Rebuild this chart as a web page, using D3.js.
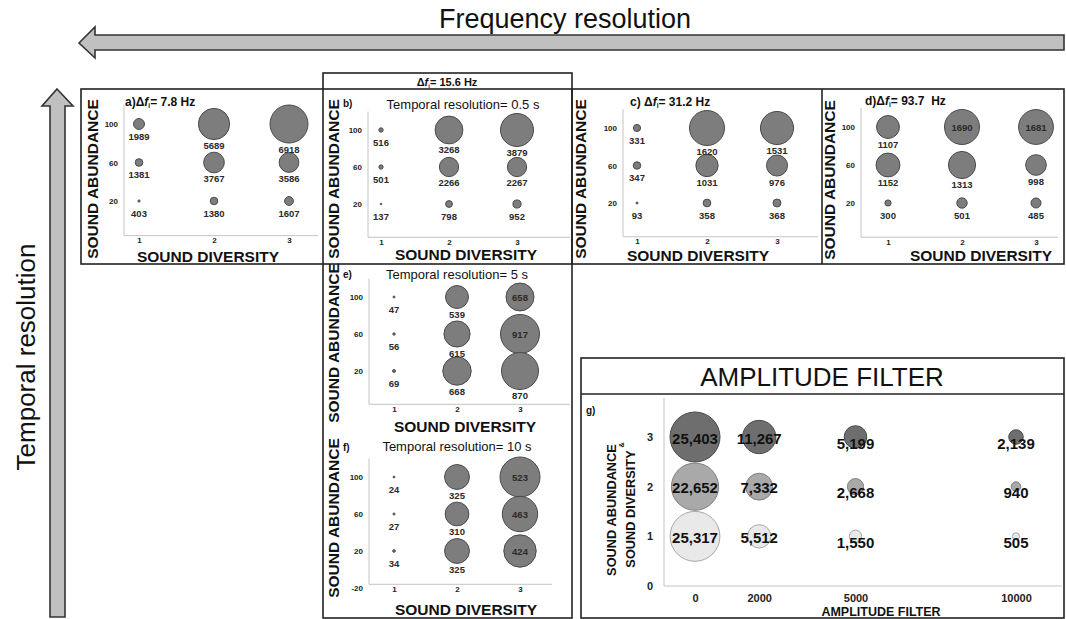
<!DOCTYPE html>
<html>
<head>
<meta charset="utf-8">
<script src="https://cdn.jsdelivr.net/npm/d3@7"></script>
<style>
  body { margin: 0; background: #fff; }
  svg { display: block; font-family: "Liberation Sans", Arial, sans-serif; }
</style>
</head>
<body>
<svg id="fig" width="1066" height="619"></svg>
<script>
// categories
var diversity = [1, 2, 3];
var abundance = [100, 60, 20];
// counts, rows = abundance (100, 60, 20), cols = diversity (1, 2, 3)
var countsA = [[1989, 5689, 6918], [1381, 3767, 3586], [403, 1380, 1607]];
var countsB = [[516, 3268, 3879], [501, 2266, 2267], [137, 798, 952]];
var countsC = [[331, 1620, 1531], [347, 1031, 976], [93, 358, 368]];
var countsD = [[1107, 1690, 1681], [1152, 1313, 998], [300, 501, 485]];
var countsE = [[47, 539, 658], [56, 615, 917], [69, 668, 870]];
var countsF = [[24, 325, 523], [27, 310, 463], [34, 325, 424]];

// amplitude filter panel
var ampFilters = [0, 2000, 5000, 10000];
var ampLevels = [3, 2, 1];
var ampTicks = [0, 1, 2, 3];
var ampCounts = [[25403, 11267, 5199, 2139], [22652, 7332, 2668, 940], [25317, 5512, 1550, 505]];
var ampFill = ["#6e6e6e", "#a9a9a9", "#e9e9e9"];
var ampStroke = ["#4a4a4a", "#808080", "#a8a8a8"];

var svg = d3.select("#fig");
var BOLD = "bold";
var plain = function(d) { return String(d); };

// ---- big arrows + titles
var arrowLine = d3.line();
svg.append("path")
    .attr("d", arrowLine([[79, 43], [95, 27], [95, 35], [1064, 35], [1064, 50], [95, 50], [95, 58]]) + "Z")
    .attr("fill", "#c0c0c0").attr("stroke", "#333").attr("stroke-width", 1.6);
svg.append("text")
    .attr("x", 565).attr("y", 28)
    .attr("text-anchor", "middle").attr("font-size", 27).attr("fill", "#111")
    .text("Frequency resolution");

svg.append("path")
    .attr("d", arrowLine([[57, 89], [73, 106], [65, 106], [65, 617], [50, 617], [50, 106], [42, 106]]) + "Z")
    .attr("fill", "#c0c0c0").attr("stroke", "#333").attr("stroke-width", 1.6);
svg.append("text")
    .attr("transform", "translate(35,357) rotate(-90)")
    .attr("text-anchor", "middle").attr("font-size", 26).attr("fill", "#111")
    .text("Temporal resolution");

// ---- frames
var frame = svg.append("g").attr("fill", "none").attr("stroke", "#222").attr("stroke-width", 1.6);
frame.append("rect").attr("x", 81).attr("y", 89).attr("width", 983).attr("height", 175);
frame.append("rect").attr("x", 323).attr("y", 73).attr("width", 249).attr("height", 545);
[572, 822].forEach(function(x) {
  frame.append("line").attr("x1", x).attr("x2", x).attr("y1", 89).attr("y2", 264);
});
frame.append("rect").attr("x", 581).attr("y", 358).attr("width", 483).attr("height", 260);
frame.append("line").attr("x1", 581).attr("x2", 1064).attr("y1", 394).attr("y2", 394);

// Δf title helper
function dfTitle(g, x, y, prefix, value, size, anchor) {
  var t = g.append("text").attr("x", x).attr("y", y)
      .attr("font-weight", BOLD).attr("font-size", size).attr("fill", "#111")
      .attr("text-anchor", anchor || "start");
  t.append("tspan").text(prefix + "\u0394");
  t.append("tspan").attr("font-style", "italic").text("f");
  t.append("tspan").attr("font-size", size * 0.55).attr("dy", 2).text("i");
  t.append("tspan").attr("dy", -2).text("= " + value + " Hz");
}
dfTitle(svg, 447, 86, "", "15.6", 11, "middle");

// ---- small bubble panels
var panels = [
  {id: "a", counts: countsA, x0: 124, x1: 139, x3: 289, xEnd: 318, y100: 124, y20: 201, maxR: 19,
   ab: [92, 179], dv: [208, 262], df: [125, 106, "a)", "7.8"], inside: []},
  {id: "b", counts: countsB, x0: 368, x1: 381, x3: 517, xEnd: 570, y100: 130, y20: 204, maxR: 16.5,
   ab: [333, 179], dv: [466, 260], tr: [463, 109, "0.5 s"], tag: [343, 107], inside: []},
  {id: "c", counts: countsC, x0: 623, x1: 637, x3: 777, xEnd: 818, y100: 128, y20: 203, maxR: 17.5,
   ab: [580, 179], dv: [698, 261], df: [630, 106, "c) ", "31.2"], inside: []},
  {id: "d", counts: countsD, x0: 861, x1: 888, x3: 1036, xEnd: 1058, y100: 127, y20: 203, maxR: 17.5,
   ab: [829, 180], dv: [981, 261], df: [865, 105, "d)", "93.7\u00a0"], inside: [[0, 1], [0, 2]]},
  {id: "e", counts: countsE, x0: 369, x1: 394, x3: 520, xEnd: 570, y100: 297, y20: 371, maxR: 19.5,
   ab: [333, 343], dv: [465, 432], tr: [457, 279, "5 s"], tag: [343, 278], inside: [[0, 2], [1, 2]]},
  {id: "f", counts: countsF, x0: 369, x1: 394, x3: 520, xEnd: 552, y100: 477, y20: 551, maxR: 20,
   ab: [333, 518], dv: [466, 615], tr: [457, 451, "10 s"], tag: [343, 451], inside: [[0, 2], [1, 2], [2, 2]],
   yTicks: [-20, 20, 60, 100]}
];

panels.forEach(function(p) {
  var g = svg.append("g").attr("class", "panel-" + p.id);
  var x = d3.scaleLinear().domain([1, 3]).range([p.x1, p.x3]);
  var y = d3.scaleLinear().domain([100, 20]).range([p.y100, p.y20]);
  var r = d3.scaleLinear().domain([0, d3.max(p.counts, function(row) { return d3.max(row); })]).range([0, p.maxR]);
  var base = y(-16);

  // axes
  g.append("line").attr("x1", p.x0).attr("x2", p.x0).attr("y1", y(120)).attr("y2", base)
      .attr("stroke", "#c4c4c4");
  g.append("line").attr("x1", p.x0).attr("x2", p.xEnd).attr("y1", base).attr("y2", base)
      .attr("stroke", "#c4c4c4");

  var ya = g.append("g").attr("transform", "translate(" + p.x0 + ",0)")
      .call(d3.axisLeft(y).tickValues(p.yTicks || abundance).tickSize(0).tickPadding(6).tickFormat(plain));
  var xa = g.append("g").attr("transform", "translate(0," + base + ")")
      .call(d3.axisBottom(x).tickValues(diversity).tickSize(0).tickPadding(2).tickFormat(plain));
  [ya, xa].forEach(function(a) {
    a.select(".domain").remove();
    a.selectAll("text").attr("font-size", 8).attr("font-weight", BOLD).attr("fill", "#222")
        .attr("font-family", "Liberation Sans, Arial, sans-serif");
  });

  // axis titles
  g.append("text")
      .attr("transform", "translate(" + p.ab[0] + "," + p.ab[1] + ") rotate(-90)")
      .attr("text-anchor", "middle").attr("dominant-baseline", "central")
      .attr("font-size", 15.5).attr("font-weight", BOLD).attr("fill", "#111")
      .text("SOUND ABUNDANCE");
  g.append("text")
      .attr("x", p.dv[0]).attr("y", p.dv[1])
      .attr("text-anchor", "middle")
      .attr("font-size", 15.5).attr("font-weight", BOLD).attr("fill", "#111")
      .text("SOUND DIVERSITY");

  // titles
  if (p.df) dfTitle(g, p.df[0], p.df[1], p.df[2], p.df[3], 12);
  if (p.tr) {
    g.append("text").attr("x", p.tag[0]).attr("y", p.tag[1])
        .attr("font-size", 10).attr("font-weight", BOLD).attr("fill", "#111").text(p.id + ")");
    g.append("text").attr("x", p.tr[0]).attr("y", p.tr[1]).attr("text-anchor", "middle")
        .attr("font-size", 13).attr("fill", "#111").text("Temporal resolution= " + p.tr[2]);
  }

  // bubbles
  var cells = [];
  p.counts.forEach(function(row, i) {
    row.forEach(function(v, j) {
      var inside = p.inside.some(function(c) { return c[0] === i && c[1] === j; });
      cells.push({ab: abundance[i], dv: diversity[j], value: v, inside: inside});
    });
  });
  g.selectAll("circle.bub").data(cells).enter().append("circle")
      .attr("class", "bub")
      .attr("cx", function(d) { return x(d.dv); })
      .attr("cy", function(d) { return y(d.ab); })
      .attr("r", function(d) { return Math.max(0.8, r(d.value)); })
      .attr("fill", "#7d7d7d").attr("stroke", "#4a4a4a").attr("stroke-width", 1);
  g.selectAll("text.val").data(cells).enter().append("text")
      .attr("class", "val")
      .attr("x", function(d) { return x(d.dv); })
      .attr("y", function(d) {
        var rr = r(d.value);
        return d.inside ? y(d.ab) : y(d.ab) + rr + 6 + Math.max(0, 6 - rr);
      })
      .attr("text-anchor", "middle").attr("dominant-baseline", "central")
      .attr("font-size", 9.5).attr("font-weight", BOLD).attr("fill", "#2a2a2a")
      .text(function(d) { return d.value; });
});

// ---- amplitude filter panel (g)
var gg = svg.append("g").attr("class", "panel-g");
gg.append("text").attr("x", 822).attr("y", 386).attr("text-anchor", "middle")
    .attr("font-size", 26).attr("fill", "#111").text("AMPLITUDE FILTER");
gg.append("text").attr("x", 586).attr("y", 414)
    .attr("font-size", 10).attr("font-weight", BOLD).attr("fill", "#111").text("g)");

var ax = d3.scaleLinear().domain([0, 10000]).range([695, 1016]);
var ay = d3.scaleLinear().domain([0, 3]).range([586, 437]);
var ar = d3.scaleSqrt().domain([0, d3.max(ampCounts, function(row) { return d3.max(row); })]).range([0, 25]);

gg.append("line").attr("x1", 664).attr("x2", 664).attr("y1", 398).attr("y2", ay(0)).attr("stroke", "#c4c4c4");
gg.append("line").attr("x1", 664).attr("x2", 1062).attr("y1", ay(0)).attr("y2", ay(0)).attr("stroke", "#c4c4c4");

var gya = gg.append("g").attr("transform", "translate(664,0)")
    .call(d3.axisLeft(ay).tickValues(ampTicks).tickSize(0).tickPadding(11).tickFormat(plain));
var gxa = gg.append("g").attr("transform", "translate(0," + ay(0) + ")")
    .call(d3.axisBottom(ax).tickValues(ampFilters).tickSize(0).tickPadding(8).tickFormat(plain));
[gya, gxa].forEach(function(a) {
  a.select(".domain").remove();
  a.selectAll("text").attr("font-size", 11).attr("font-weight", BOLD).attr("fill", "#222")
      .attr("font-family", "Liberation Sans, Arial, sans-serif");
});

gg.append("text").attr("x", 881).attr("y", 616).attr("text-anchor", "middle")
    .attr("font-size", 12.5).attr("font-weight", BOLD).attr("fill", "#111").text("AMPLITUDE FILTER");
gg.append("text").attr("transform", "translate(611,510) rotate(-90)")
    .attr("text-anchor", "middle").attr("dominant-baseline", "central")
    .attr("font-size", 12.8).attr("font-weight", BOLD).attr("fill", "#111").text("SOUND ABUNDANCE");
gg.append("text").attr("transform", "translate(621,445) rotate(-90)")
    .attr("text-anchor", "middle").attr("dominant-baseline", "central")
    .attr("font-size", 7).attr("font-weight", BOLD).attr("fill", "#111").text("&");
gg.append("text").attr("transform", "translate(630,509) rotate(-90)")
    .attr("text-anchor", "middle").attr("dominant-baseline", "central")
    .attr("font-size", 12.8).attr("font-weight", BOLD).attr("fill", "#111").text("SOUND DIVERSITY");

var ampCells = [];
ampCounts.forEach(function(row, i) {
  row.forEach(function(v, j) {
    ampCells.push({level: ampLevels[i], filter: ampFilters[j], value: v, row: i});
  });
});
gg.selectAll("circle").data(ampCells).enter().append("circle")
    .attr("cx", function(d) { return ax(d.filter); })
    .attr("cy", function(d) { return ay(d.level); })
    .attr("r", function(d) { return ar(d.value); })
    .attr("fill", function(d) { return ampFill[d.row]; })
    .attr("stroke", function(d) { return ampStroke[d.row]; });
gg.selectAll("text.val").data(ampCells).enter().append("text")
    .attr("class", "val")
    .attr("x", function(d) { return ax(d.filter); })
    .attr("y", function(d) { return ay(d.level) + (ar(d.value) < 11.5 ? 6 : 1); })
    .attr("text-anchor", "middle").attr("dominant-baseline", "central")
    .attr("font-size", 15).attr("font-weight", BOLD).attr("fill", "#111")
    .text(function(d) { return d3.format(",")(d.value); });
</script>
</body>
</html>
